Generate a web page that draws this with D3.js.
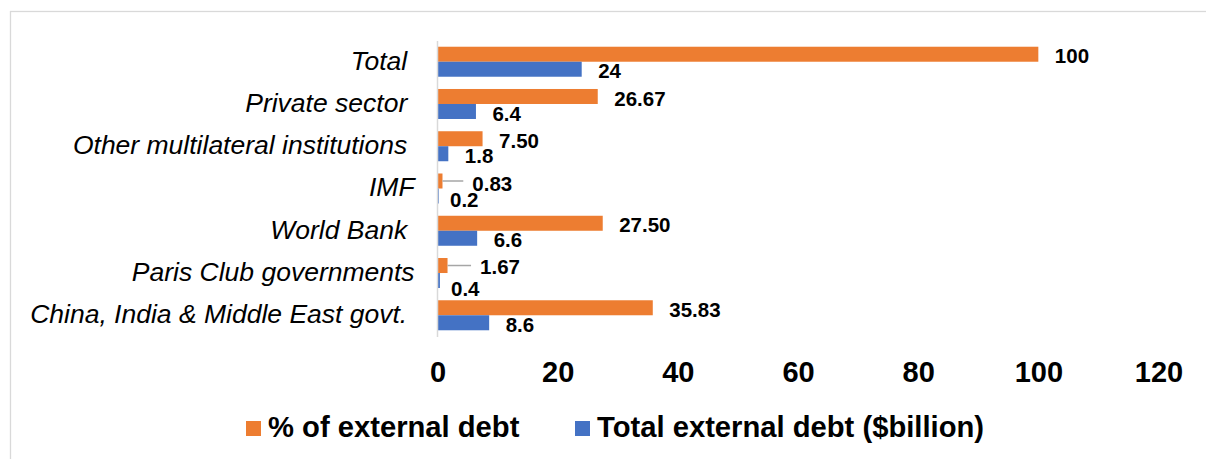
<!DOCTYPE html>
<html>
<head>
<meta charset="utf-8">
<script src="https://cdn.jsdelivr.net/npm/d3@7"></script>
<style>
  html, body { margin: 0; padding: 0; background: #fff; }
  svg { display: block; font-family: "Liberation Sans", Arial, sans-serif; }
</style>
</head>
<body>
<svg id="chart" width="1206" height="459"></svg>
<script>
// ---- data ----
const categories = [
  "Total ",
  "Private sector ",
  "Other multilateral institutions ",
  "IMF",
  "World Bank ",
  "Paris Club governments",
  "China, India & Middle East govt. "
];
const pctValues  = [100, 26.67, 7.50, 0.83, 27.50, 1.67, 35.83];
const pctLabels  = ["100", "26.67", "7.50", "0.83", "27.50", "1.67", "35.83"];
const debtValues = [24, 6.4, 1.8, 0.2, 6.6, 0.4, 8.6];
const debtLabels = ["24", "6.4", "1.8", "0.2", "6.6", "0.4", "8.6"];
const xTicks = [0, 20, 40, 60, 80, 100, 120];
const seriesNames = ["% of external debt", "Total external debt ($billion)"];

// ---- styling / layout ----
const colors = ["#ED7D31", "#4472C4"];
const svg = d3.select("#chart");

// outer chart border
svg.append("rect")
  .attr("x", 10.5).attr("y", 11.5)
  .attr("width", 1300).attr("height", 500)
  .attr("fill", "none").attr("stroke", "#d9d9d9").attr("stroke-width", 1.3);

const x = d3.scaleLinear().domain([0, 120]).range([437.5, 1158.5]);
const y = d3.scaleBand().domain(categories).range([40.6, 336.4])
  .paddingInner(0.29).paddingOuter(0.145);
const sub = d3.scaleBand().domain([0, 1]).range([0, y.bandwidth()]);

const rows = categories.map((c, i) => ({
  cat: c,
  vals: [
    { s: 0, v: pctValues[i],  label: pctLabels[i] },
    { s: 1, v: debtValues[i], label: debtLabels[i] }
  ]
}));

// bars
const rowG = svg.append("g").selectAll("g").data(rows).join("g")
  .attr("transform", d => `translate(0,${y(d.cat)})`);

rowG.selectAll("rect").data(d => d.vals).join("rect")
  .attr("x", x(0))
  .attr("y", d => sub(d.s))
  .attr("width", d => x(d.v) - x(0))
  .attr("height", sub.bandwidth())
  .attr("fill", d => colors[d.s]);

// manual label nudges (as in the original, some small labels were dragged)
const nudges = {
  "IMF|0": { dx: 13.3, dy: 0.5, leader: true },
  "IMF|1": { dx: -5.2, dy: 1.5 },
  "Paris Club governments|0": { dx: 16, dy: -0.9, leader: true },
  "Paris Club governments|1": { dx: -5.4, dy: 5.8 }
};
const labelGap = 16.5;

rowG.each(function (row) {
  const g = d3.select(this);
  row.vals.forEach(d => {
    const n = nudges[row.cat + "|" + d.s] || { dx: 0, dy: 0 };
    const cy = sub(d.s) + sub.bandwidth() / 2;
    const lx = x(d.v) + labelGap + n.dx;
    if (n.leader) {
      g.append("line")
        .attr("x1", x(d.v)).attr("x2", lx - 9)
        .attr("y1", cy).attr("y2", cy)
        .attr("stroke", "#a6a6a6").attr("stroke-width", 1.5);
    }
    g.append("text")
      .attr("x", lx)
      .attr("y", cy + n.dy)
      .attr("dy", "0.45em")
      .attr("font-size", 20.5)
      .attr("font-weight", "bold")
      .attr("fill", "#000")
      .text(d.label);
  });
});

// y axis (category labels + vertical line)
const yAxisG = svg.append("g")
  .attr("transform", `translate(${x(0) - 0.5},0)`)
  .call(d3.axisLeft(y).tickSize(0).tickPadding(22.4));
yAxisG.select(".domain").attr("stroke", "#d9d9d9").attr("stroke-width", 1.5);
yAxisG.selectAll("text")
  .attr("font-size", 26.5)
  .attr("font-style", "italic")
  .attr("font-family", "Liberation Sans, Arial, sans-serif")
  .attr("fill", "#000")
  .attr("dy", "0.3em")
  .style("white-space", "pre");

// x axis (tick labels only)
const xAxisG = svg.append("g")
  .attr("transform", `translate(0,336)`)
  .call(d3.axisBottom(x).tickValues(xTicks).tickSize(0).tickPadding(25));
xAxisG.select(".domain").remove();
xAxisG.selectAll("text")
  .attr("font-size", 29)
  .attr("font-weight", "bold")
  .attr("font-family", "Liberation Sans, Arial, sans-serif")
  .attr("fill", "#000");

// legend
const legendPos = [246, 575];
const legend = svg.append("g").selectAll("g").data(seriesNames).join("g")
  .attr("transform", (d, i) => `translate(${legendPos[i]},421)`);
legend.append("rect")
  .attr("x", 0).attr("y", 0).attr("width", 15).attr("height", 15)
  .attr("fill", (d, i) => colors[i]);
legend.append("text")
  .attr("x", 22).attr("y", 15.7)
  .attr("font-size", 29.2)
  .attr("font-weight", "bold")
  .attr("fill", "#000")
  .text(d => d);
</script>
</body>
</html>
